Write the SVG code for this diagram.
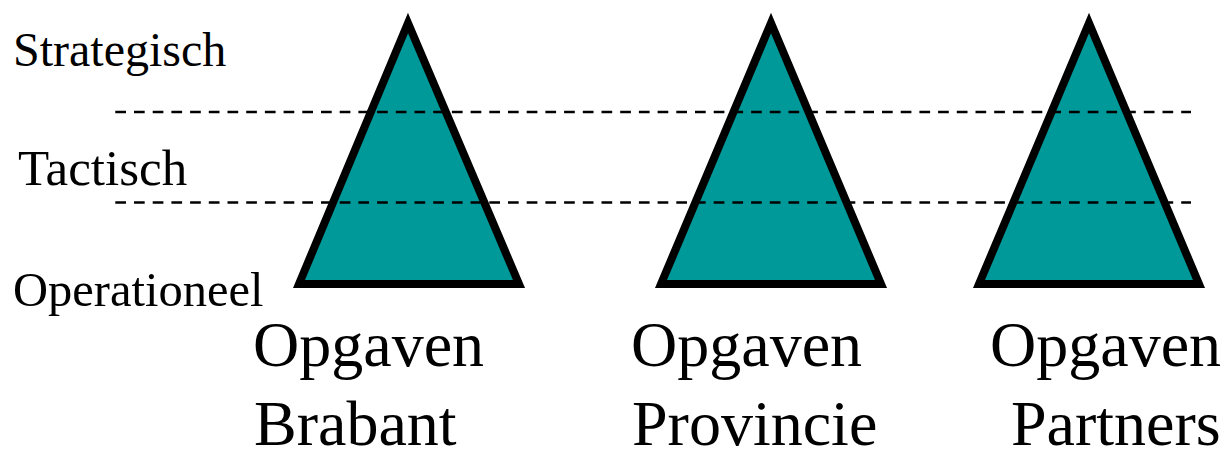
<svg xmlns="http://www.w3.org/2000/svg" width="1225" height="449" viewBox="0 0 1225 449">
<style>
.tri{fill:#009999;stroke:#000;stroke-width:8;stroke-linejoin:miter;stroke-miterlimit:10}
.dash{stroke:#000;stroke-width:2.5;stroke-dasharray:10.7 8;fill:none}
.lvl{font-family:"Liberation Serif","Times New Roman",serif;font-size:48px;fill:#000}
.lbl{font-family:"Liberation Serif","Times New Roman",serif;font-size:64px;fill:#000}
</style>
<rect width="1225" height="449" fill="#fff"/>
<g id="levels">
<text class="lvl" x="13" y="66">Strategisch</text>
<text class="lvl" x="18" y="185" style="font-size:51px">Tactisch</text>
<text class="lvl" x="13" y="306" style="font-size:48.5px">Operationeel</text>
</g>
<g id="brabant">
<polygon class="tri" points="408,23 519,284 299,284"/>
<text class="lbl" x="253" y="366">Opgaven</text>
<text class="lbl" x="254" y="445">Brabant</text>
</g>
<g id="provincie">
<polygon class="tri" points="771,23 881,284 661,284"/>
<text class="lbl" x="631" y="366">Opgaven</text>
<text class="lbl" x="632" y="445">Provincie</text>
</g>
<g id="partners">
<polygon class="tri" points="1089,23 1199,284 979,284"/>
<text class="lbl" x="990" y="366">Opgaven</text>
<text class="lbl" x="1011" y="445">Partners</text>
</g>
<g id="connectors">
<line class="dash" x1="115.3" y1="112" x2="1191" y2="112"/>
<line class="dash" x1="115.3" y1="202.5" x2="1191" y2="202.5"/>
</g>
</svg>
